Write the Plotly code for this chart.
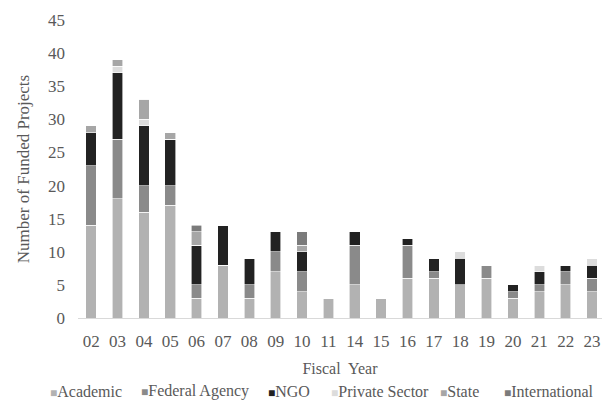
import plotly.graph_objects as go

years = ["02", "03", "04", "05", "06", "07", "08", "09", "10", "11", "14", "15",
         "16", "17", "18", "19", "20", "21", "22", "23"]

academic = [14, 18, 16, 17, 3, 8, 3, 7, 4, 3, 5, 3, 6, 6, 5, 6, 3, 4, 5, 4]
federal = [9, 9, 4, 3, 2, 0, 2, 3, 3, 0, 6, 0, 5, 1, 0, 2, 1, 1, 2, 2]
ngo = [5, 10, 9, 7, 6, 6, 4, 3, 3, 0, 2, 0, 1, 2, 4, 0, 1, 2, 1, 2]
private = [0, 1, 1, 0, 0, 0, 0, 0, 0, 0, 0, 0, 0, 0, 1, 0, 0, 1, 0, 1]
state = [1, 1, 3, 1, 2, 0, 0, 0, 1, 0, 0, 0, 0, 0, 0, 0, 0, 0, 0, 0]
international = [0, 0, 0, 0, 1, 0, 0, 0, 2, 0, 0, 0, 0, 0, 0, 0, 0, 0, 0, 0]

series_names = ["Academic", "Federal Agency", "NGO", "Private Sector", "State", "International"]
series_values = [academic, federal, ngo, private, state, international]
series_colors = ["#b2b2b2", "#8a8a8a", "#222222", "#dcdcdc", "#a6a6a6", "#7b7b7b"]

font_family = "Liberation Serif, Times New Roman, serif"
txt = "#595959"

# page body has an 8px margin on every side; size the figure so the page does not overflow
W, H = 594, 393
ML, MR, MT, MB = 70, 0, 12, 83
pw = W - ML - MR
ph = H - MT - MB

fig = go.Figure()
for name, vals, col in zip(series_names, series_values, series_colors):
    fig.add_trace(go.Bar(
        x=years, y=vals, name=name, showlegend=False,
        marker=dict(color=col, line=dict(color="white", width=0.6)),
    ))

# legend drawn as text entries (left edges in figure pixels)
legend_x = [40, 131, 258, 321, 430, 494]
legend_y = 383
for name, col, px in zip(series_names, series_colors, legend_x):
    fig.add_annotation(
        xref="paper", yref="paper",
        x=(px - ML) / pw, y=(H - MB - legend_y) / ph,
        xanchor="left", yanchor="middle", showarrow=False,
        text=f"<span style='color:{col};font-size:12px'>■</span>{name}",
        font=dict(size=16, color=txt, family=font_family),
    )

fig.update_layout(
    barmode="stack",
    bargap=0.6,
    width=W, height=H,
    margin=dict(l=ML, r=MR, t=MT, b=MB),
    paper_bgcolor="white", plot_bgcolor="white",
    font=dict(family=font_family, size=16, color=txt),
    xaxis=dict(
        type="category",
        range=[-0.5, 19.38],
        automargin=False,
        showline=True, linecolor="#d9d9d9", linewidth=1,
        ticks="", showgrid=False, ticklabelstandoff=8,
        tickfont=dict(size=17, color=txt),
        title=dict(text="Fiscal  Year", font=dict(size=16, color=txt), standoff=12),
    ),
    yaxis=dict(
        range=[0, 45], dtick=5,
        automargin=False,
        showgrid=False, zeroline=False, showline=False,
        ticks="", ticklabelstandoff=12,
        tickfont=dict(size=17, color=txt),
        title=dict(text="Number of Funded Projects", font=dict(size=17, color=txt), standoff=14),
    ),
)

fig.write_html("out.html")
